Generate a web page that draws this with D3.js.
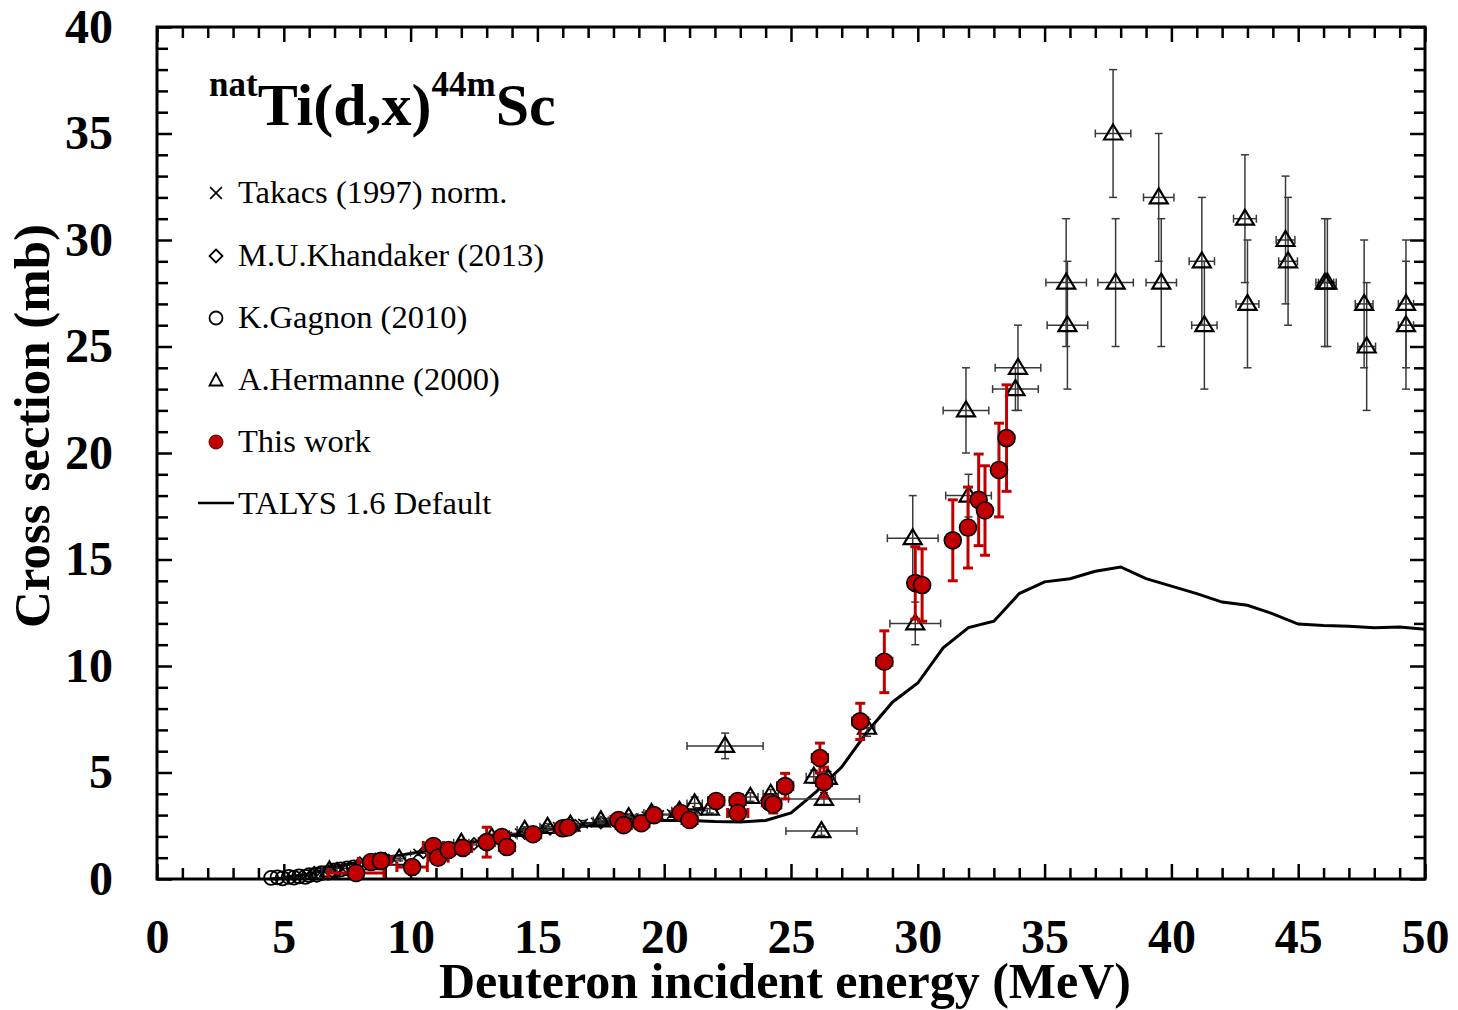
<!DOCTYPE html>
<html><head><meta charset="utf-8">
<script src="https://cdn.jsdelivr.net/npm/d3@7"></script>
<style>
html,body{margin:0;padding:0;background:#fff;}
svg{display:block;font-family:"Liberation Serif","Times New Roman",serif;}
</style></head>
<body>
<svg id="chart" width="1458" height="1010"></svg>
<script>
// ---------- data ----------
const xTicks = [0,5,10,15,20,25,30,35,40,45,50];
const yTicks = [0,5,10,15,20,25,30,35,40];
const legendLabels = ["Takacs (1997) norm.","M.U.Khandaker (2013)","K.Gagnon (2010)","A.Hermanne (2000)","This work","TALYS 1.6 Default"];

// TALYS 1.6 default: [E, sigma]
const talys = [[4.5,0],[5,0.05],[6,0.25],[7,0.55],[8,0.8],[9,1.0],[10,1.2],[11,1.4],[12,1.6],[13,1.85],[14,2.05],[15,2.25],[16,2.4],[17,2.5],[18,2.6],[19,2.7],[20,2.75],[21,2.75],[22,2.7],[23,2.68],[24,2.75],[25,3.1],[25.5,3.6],[26,4.1],[27,5.26],[28,6.9],[29,8.3],[30,9.2],[31,10.85],[32,11.8],[33,12.1],[34,13.4],[35,13.95],[36,14.1],[37,14.45],[38,14.65],[39,14.1],[40,13.75],[41,13.4],[42,13.0],[43,12.85],[44,12.45],[45,11.97],[46,11.9],[47,11.87],[48,11.8],[49,11.83],[50,11.72]];

// This work: [E, sigma, dE, dsigma]
const thisWork = [[7.85,0.28,1.1,0.1],[8.44,0.8,0.5,0.15],[8.83,0.85,0.4,0.15],[10.06,0.56,0.6,0.1],[10.9,1.55,0.4,0.2],[11.08,1.0,0.4,0.15],[11.5,1.36,0.4,0.2],[12.06,1.46,0.35,0.2],[13.0,1.73,0.3,0.7],[13.6,1.97,0.3,0.3],[13.8,1.5,0.3,0.3],[14.83,2.1,0.3,0.2],[16.0,2.38,0.3,0.2],[16.2,2.42,0.3,0.2],[18.2,2.77,0.3,0.2],[18.4,2.53,0.3,0.2],[19.1,2.62,0.3,0.2],[19.6,3.0,0.3,0.2],[20.65,3.1,0.3,0.2],[21.0,2.77,0.3,0.2],[22.05,3.66,0.3,0.3],[22.9,3.66,0.3,0.3],[22.9,3.1,0.4,0.3],[24.17,3.6,0.3,0.3],[24.3,3.5,0.3,0.4],[24.77,4.36,0.3,0.6],[26.14,5.68,0.3,0.7],[26.3,4.55,0.3,0.7],[27.73,7.4,0.3,0.85],[28.68,10.2,0.3,1.45],[29.9,13.9,0.2,1.7],[30.17,13.8,0.2,1.7],[31.38,15.9,0.2,1.9],[31.98,16.5,0.2,1.9],[32.4,17.8,0.2,2.15],[32.65,17.3,0.2,2.1],[33.2,19.2,0.2,2.2],[33.5,20.7,0.2,2.5]];

// A.Hermanne (2000): [E, sigma, dE, dsigma]
const hermanne = [[6.8,0.4,0.3,0.08],[8.6,0.75,0.3,0.1],[9.55,0.95,0.25,0.1],[12.0,1.7,0.3,0.15],[13.2,1.95,0.3,0.15],[14.5,2.3,0.3,0.15],[15.4,2.45,0.3,0.15],[16.3,2.55,0.3,0.15],[17.5,2.75,0.3,0.15],[18.6,2.9,0.3,0.15],[19.5,3.1,0.3,0.15],[20.6,3.2,0.3,0.2],[21.2,3.55,0.3,0.3],[21.8,3.3,0.3,0.2],[23.4,3.85,0.3,0.2],[24.2,4.0,0.3,0.2],[22.4,6.25,1.5,0.6],[25.9,4.8,0.3,0.3],[26.45,4.75,0.3,0.3],[26.3,3.76,1.4,0.3],[26.2,2.25,1.4,0.2],[28.0,7.1,0.3,0.4],[29.8,16.0,1.0,2.0],[29.9,12.0,1.0,1.0],[31.9,22.0,0.9,2.0],[32.0,18.0,0.9,1.0],[33.95,24.0,0.9,2.0],[33.85,23.0,0.9,1.0],[35.85,28.0,0.8,3.0],[35.9,26.0,0.8,3.0],[37.7,35.0,0.7,3.0],[37.8,28.0,0.7,3.0],[39.5,32.0,0.6,3.0],[39.6,28.0,0.6,3.0],[41.2,29.0,0.5,3.0],[41.3,26.0,0.5,3.0],[42.9,31.0,0.45,3.0],[43.0,27.0,0.45,3.0],[44.5,30.0,0.37,3.0],[44.6,29.0,0.37,3.0],[46.05,28.0,0.35,3.0],[46.15,28.0,0.35,3.0],[47.6,27.0,0.35,3.0],[47.7,25.0,0.35,3.0],[49.25,27.0,0.3,3.0],[49.25,26.0,0.3,3.0]];

// K.Gagnon (2010): [E, sigma]
const gagnon = [[4.5,0.05],[4.75,0.08],[4.95,0.03],[5.2,0.1],[5.4,0.06],[5.6,0.12],[5.85,0.1],[6.0,0.18],[6.3,0.2],[6.5,0.28],[6.75,0.3],[7.0,0.4],[7.25,0.45],[7.5,0.5],[7.75,0.55]];

// M.U.Khandaker (2013): [E, sigma]
const khandaker = [[6.2,0.3],[7.1,0.5],[8.0,0.75],[9.0,0.95],[10.5,1.25],[11.5,1.45],[12.5,1.65],[13.5,1.9],[14.5,2.15],[15.5,2.35],[16.5,2.5],[17.5,2.65],[18.5,2.8],[19.5,2.95],[20.5,3.05]];

// Takacs (1997) norm.: [E, sigma, dE, dsigma]
const takacs = [[5.3,0.1,0.3,0.05],[5.9,0.2,0.3,0.05],[6.6,0.35,0.3,0.05],[7.3,0.5,0.3,0.08],[8.2,0.75,0.3,0.1],[9.3,0.95,0.3,0.1],[10.3,1.2,0.3,0.1],[11.3,1.4,0.3,0.12],[12.3,1.6,0.3,0.12],[13.3,1.85,0.4,0.15],[13.8,2.0,0.4,0.15],[14.3,2.15,0.4,0.15],[14.8,2.25,0.4,0.15],[15.3,2.35,0.4,0.15],[15.8,2.45,0.4,0.15],[16.3,2.5,0.4,0.15],[16.8,2.6,0.4,0.15],[17.3,2.65,0.4,0.15],[17.8,2.7,0.4,0.15],[18.3,2.8,0.4,0.15],[18.8,2.85,0.4,0.15],[19.3,2.95,0.4,0.15],[19.8,3.0,0.4,0.15],[20.3,3.05,0.4,0.15],[20.8,3.1,0.4,0.15],[21.3,3.2,0.4,0.15]];

// ---------- drawing ----------
const L=157, R=1425, T=27, B=879;
const svg = d3.select("#chart");
const x = d3.scaleLinear().domain([0,50]).range([L,R]);
const y = d3.scaleLinear().domain([0,40]).range([B,T]);
const RED = "#c00000";

// axes with inward ticks
const minorX = d3.range(0,51,1).filter(v=>v%5!==0);
const minorY = d3.range(0,41,1).filter(v=>v%5!==0);
function styleAxis(g){ g.select(".domain").remove(); g.selectAll("line").attr("stroke","#000").attr("stroke-width",2.5); }
svg.append("g").attr("transform",`translate(0,${B})`).call(d3.axisBottom(x).tickValues(minorX).tickSize(-11).tickFormat("")).call(styleAxis);
svg.append("g").attr("transform",`translate(0,${B})`).call(d3.axisBottom(x).tickValues(xTicks).tickSize(-15).tickPadding(40).tickFormat(d3.format("d"))).call(styleAxis)
  .selectAll("text").attr("font-size",48).attr("font-weight","bold").attr("fill","#000").attr("font-family","Liberation Serif");
svg.append("g").attr("transform",`translate(0,${T})`).call(d3.axisTop(x).tickValues(minorX).tickSize(-11).tickFormat("")).call(styleAxis);
svg.append("g").attr("transform",`translate(0,${T})`).call(d3.axisTop(x).tickValues(xTicks).tickSize(-15).tickFormat("")).call(styleAxis);
svg.append("g").attr("transform",`translate(${L},0)`).call(d3.axisLeft(y).tickValues(minorY).tickSize(-11).tickFormat("")).call(styleAxis);
svg.append("g").attr("transform",`translate(${L},0)`).call(d3.axisLeft(y).tickValues(yTicks).tickSize(-15).tickPadding(44).tickFormat(d3.format("d"))).call(styleAxis)
  .selectAll("text").attr("font-size",48).attr("font-weight","bold").attr("fill","#000").attr("font-family","Liberation Serif");
svg.append("g").attr("transform",`translate(${R},0)`).call(d3.axisRight(y).tickValues(minorY).tickSize(-11).tickFormat("")).call(styleAxis);
svg.append("g").attr("transform",`translate(${R},0)`).call(d3.axisRight(y).tickValues(yTicks).tickSize(-15).tickFormat("")).call(styleAxis);
svg.append("rect").attr("x",L).attr("y",T).attr("width",R-L).attr("height",B-T).attr("fill","none").attr("stroke","#000").attr("stroke-width",3);

// axis titles
svg.append("text").attr("x",785).attr("y",998).attr("text-anchor","middle").attr("font-size",50).attr("font-weight","bold").text("Deuteron incident energy (MeV)");
svg.append("text").attr("transform","translate(49,426) rotate(-90)").attr("text-anchor","middle").attr("font-size",51).attr("font-weight","bold").text("Cross section (mb)");

// TALYS line
const plot = svg.append("g");
plot.append("path").datum(talys).attr("fill","none").attr("stroke","#000").attr("stroke-width",3)
  .attr("d", d3.line().x(d=>x(d[0])).y(d=>y(d[1])));

// generic error bar drawer
function errBars(g, data, color, sw, cap){
  const eg = g.append("g").attr("stroke",color).attr("stroke-width",sw).attr("fill","none");
  data.forEach(d=>{
    const cx=x(d[0]), cy=y(d[1]);
    if(d[3]>0){
      const y1=y(d[1]+d[3]), y2=y(d[1]-d[3]);
      eg.append("line").attr("x1",cx).attr("x2",cx).attr("y1",y1).attr("y2",y2);
      eg.append("line").attr("x1",cx-cap).attr("x2",cx+cap).attr("y1",y1).attr("y2",y1);
      eg.append("line").attr("x1",cx-cap).attr("x2",cx+cap).attr("y1",y2).attr("y2",y2);
    }
    if(d[2]>0){
      const x1=x(d[0]-d[2]), x2=x(d[0]+d[2]);
      eg.append("line").attr("x1",x1).attr("x2",x2).attr("y1",cy).attr("y2",cy);
      eg.append("line").attr("x1",x1).attr("x2",x1).attr("y1",cy-cap).attr("y2",cy+cap);
      eg.append("line").attr("x1",x2).attr("x2",x2).attr("y1",cy-cap).attr("y2",cy+cap);
    }
  });
}

// Takacs crosses with small error bars
errBars(plot, takacs, "#222", 1.2, 3);
plot.append("g").selectAll("path").data(takacs).join("path")
  .attr("d", d3.symbol(d3.symbolTimes, 60)).attr("transform",d=>`translate(${x(d[0])},${y(d[1])})`)
  .attr("fill","none").attr("stroke","#000").attr("stroke-width",1.5);
// Khandaker diamonds
plot.append("g").selectAll("path").data(khandaker).join("path")
  .attr("d","M0,-6L6,0L0,6L-6,0Z").attr("transform",d=>`translate(${x(d[0])},${y(d[1])})`)
  .attr("fill","none").attr("stroke","#000").attr("stroke-width",1.6);
// Gagnon circles
plot.append("g").selectAll("circle").data(gagnon).join("circle")
  .attr("cx",d=>x(d[0])).attr("cy",d=>y(d[1])).attr("r",7)
  .attr("fill","none").attr("stroke","#000").attr("stroke-width",1.8);
// Hermanne triangles
errBars(plot, hermanne, "#3a3a3a", 1.5, 4);
plot.append("g").selectAll("path").data(hermanne).join("path")
  .attr("d","M0,-9L9,6L-9,6Z").attr("transform",d=>`translate(${x(d[0])},${y(d[1])})`)
  .attr("fill","none").attr("stroke","#000").attr("stroke-width",2.2);
// This work
errBars(plot, thisWork, RED, 3, 5);
plot.append("g").selectAll("circle").data(thisWork).join("circle")
  .attr("cx",d=>x(d[0])).attr("cy",d=>y(d[1])).attr("r",8.5)
  .attr("fill",RED).attr("stroke","#000").attr("stroke-width",1.6);

// title
const title = svg.append("text").attr("x",209).attr("y",125).attr("font-weight","bold").attr("fill","#000");
title.append("tspan").attr("font-size",35).attr("dy",-29).text("nat");
title.append("tspan").attr("font-size",60).attr("dy",29).text("Ti(d,x)");
title.append("tspan").attr("font-size",35).attr("dy",-29).text("44m");
title.append("tspan").attr("font-size",60).attr("dy",29).text("Sc");

// legend
const legY = [193,256,318,380,442,504];
const lg = svg.append("g");
lg.append("path").attr("d",d3.symbol(d3.symbolTimes,90)()).attr("transform",`translate(216,${legY[0]})`).attr("fill","none").attr("stroke","#000").attr("stroke-width",1.6);
lg.append("path").attr("d","M0,-6.5L6.5,0L0,6.5L-6.5,0Z").attr("transform",`translate(216,${legY[1]})`).attr("fill","none").attr("stroke","#000").attr("stroke-width",1.8);
lg.append("circle").attr("cx",216).attr("cy",legY[2]).attr("r",6.5).attr("fill","none").attr("stroke","#000").attr("stroke-width",1.8);
lg.append("path").attr("d","M0,-6.5L6.5,5.5L-6.5,5.5Z").attr("transform",`translate(216,${legY[3]})`).attr("fill","none").attr("stroke","#000").attr("stroke-width",1.8);
lg.append("circle").attr("cx",216).attr("cy",legY[4]).attr("r",7).attr("fill",RED).attr("stroke","#600").attr("stroke-width",1);
lg.append("line").attr("x1",198).attr("x2",234).attr("y1",legY[5]-1).attr("y2",legY[5]-1).attr("stroke","#000").attr("stroke-width",2.5);
legendLabels.forEach((t,i)=>{
  lg.append("text").attr("x",238).attr("y",legY[i]+10).attr("font-size",32.5).attr("fill","#000").text(t);
});
</script>
</body></html>
